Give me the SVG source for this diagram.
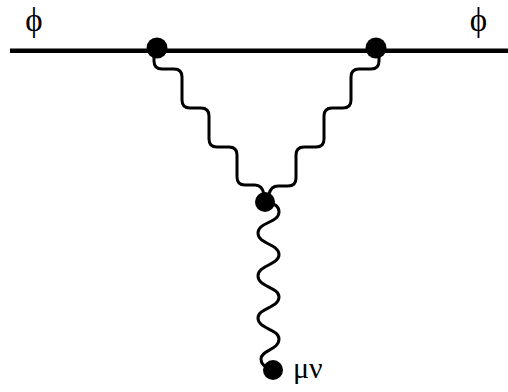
<svg xmlns="http://www.w3.org/2000/svg" width="508" height="392" viewBox="0 0 508 392">
<style>
.line{fill:none;stroke:#000;stroke-width:4.5}
.wave{fill:none;stroke:#000;stroke-width:3;stroke-linecap:round;stroke-linejoin:round}
.dot{fill:#000}
.lbl{font-family:"Liberation Serif","Times New Roman",serif;fill:#000}
</style>
<rect width="508" height="392" fill="#fff"/>
<g id="connectors">
<line class="line" x1="10" y1="50.8" x2="508" y2="50.8"/>
<path class="wave" d="M154,56 L154,61 Q154,69 162,69 L174,69 Q182,69 182,77 L182,100 Q182,108 190,108 L201,108 Q209,108 209,116 L209,139 Q209,147 217,147 L229,147 Q237,147 237,155 L237,177 Q237,185 245,185 L255,185 Q262,185 264,194"/>
<path class="wave" d="M379,56 L379,61 Q379,69 371,69 L359,69 Q351,69 351,77 L351,100 Q351,108 343,108 L332,108 Q324,108 324,116 L324,139 Q324,147 316,147 L304,147 Q296,147 296,155 L296,178 Q296,186 288,186 L278,186 Q271,186 269,194"/>
<path class="wave" d="M268,203 Q279,204 279,212 C279,223 258,222 258,233 C258,244 279,244 279,254.5 C279,265 258,265 258,276 C258,287 279,287 279,297 C279,308 258,308 258,318 C258,329 279,329 279,339 C279,350 261,350 261,359 Q261,366 271,369"/>
</g>
<g id="v1"><circle class="dot" cx="157" cy="48" r="10.5"/></g>
<g id="v2"><circle class="dot" cx="376" cy="48" r="10.5"/></g>
<g id="v3"><circle class="dot" cx="265" cy="202" r="10"/></g>
<g id="v4"><circle class="dot" cx="273" cy="370" r="10"/></g>
<g id="labels">
<text class="lbl" x="34" y="31" font-size="33" text-anchor="middle">ϕ</text>
<text class="lbl" x="478.5" y="31" font-size="33" text-anchor="middle">ϕ</text>
<text class="lbl" x="293" y="378" font-size="30">μν</text>
</g>
</svg>
